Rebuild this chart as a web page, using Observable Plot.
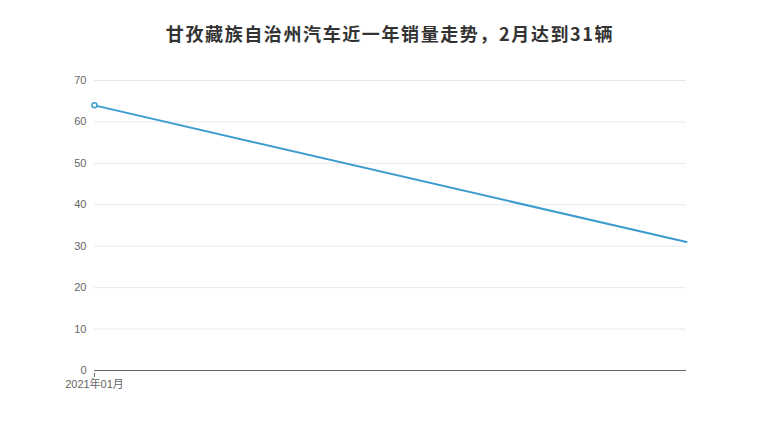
<!DOCTYPE html>
<html><head><meta charset="utf-8">
<script src="https://cdn.jsdelivr.net/npm/d3@7"></script>
<script src="https://cdn.jsdelivr.net/npm/@observablehq/plot@0.6"></script>
<style>
body{margin:0;background:#fff;font-family:"Liberation Sans","Noto Sans CJK SC",sans-serif;}
#title{height:60px;line-height:66px;text-align:center;font-size:18px;font-weight:bold;color:#333;font-family:"Noto Sans CJK SC",sans-serif;letter-spacing:1.6px;}
</style></head><body>
<div id="title">甘孜藏族自治州汽车近一年销量走势，2月达到31辆</div>
<div id="chart"></div>
<script>
const months = ["2021年01月", "2021年02月"];
const sales = [64, 31];
const yTicks = [0, 10, 20, 30, 40, 50, 60, 70];
const shownXTicks = ["2021年01月"];

const data = months.map((m, i) => ({month: m, value: sales[i]}));

const chart = Plot.plot({
  width: 780,
  height: 380,
  marginTop: 20,
  marginBottom: 70,
  marginLeft: 94,
  marginRight: 94,
  style: {fontFamily: '"Liberation Sans","Noto Sans CJK SC",sans-serif', fontSize: "11px", color: "#666", background: "#fff"},
  x: {type: "point", domain: months, padding: 0},
  y: {domain: [0, 70]},
  marks: [
    Plot.gridY(yTicks, {stroke: "#e6e9ec", strokeOpacity: 1}),
    Plot.axisY(yTicks, {tickSize: 0, tickPadding: 8, label: null, fill: "#666"}),
    Plot.ruleY([0], {stroke: "#666", strokeWidth: 1}),
    Plot.axisX(shownXTicks, {tickSize: 4, tickPadding: 3, dy: 3, label: null, fill: "#666", stroke: "#666"}),
    Plot.line(data, {x: "month", y: "value", stroke: "#3d9ccf", strokeWidth: 2}),
    Plot.dot(data.slice(0, 1), {x: "month", y: "value", r: 2.5, fill: "#fff", stroke: "#3d9ccf", strokeWidth: 1.5})
  ]
});
document.getElementById("chart").appendChild(chart);
</script>
</body></html>
